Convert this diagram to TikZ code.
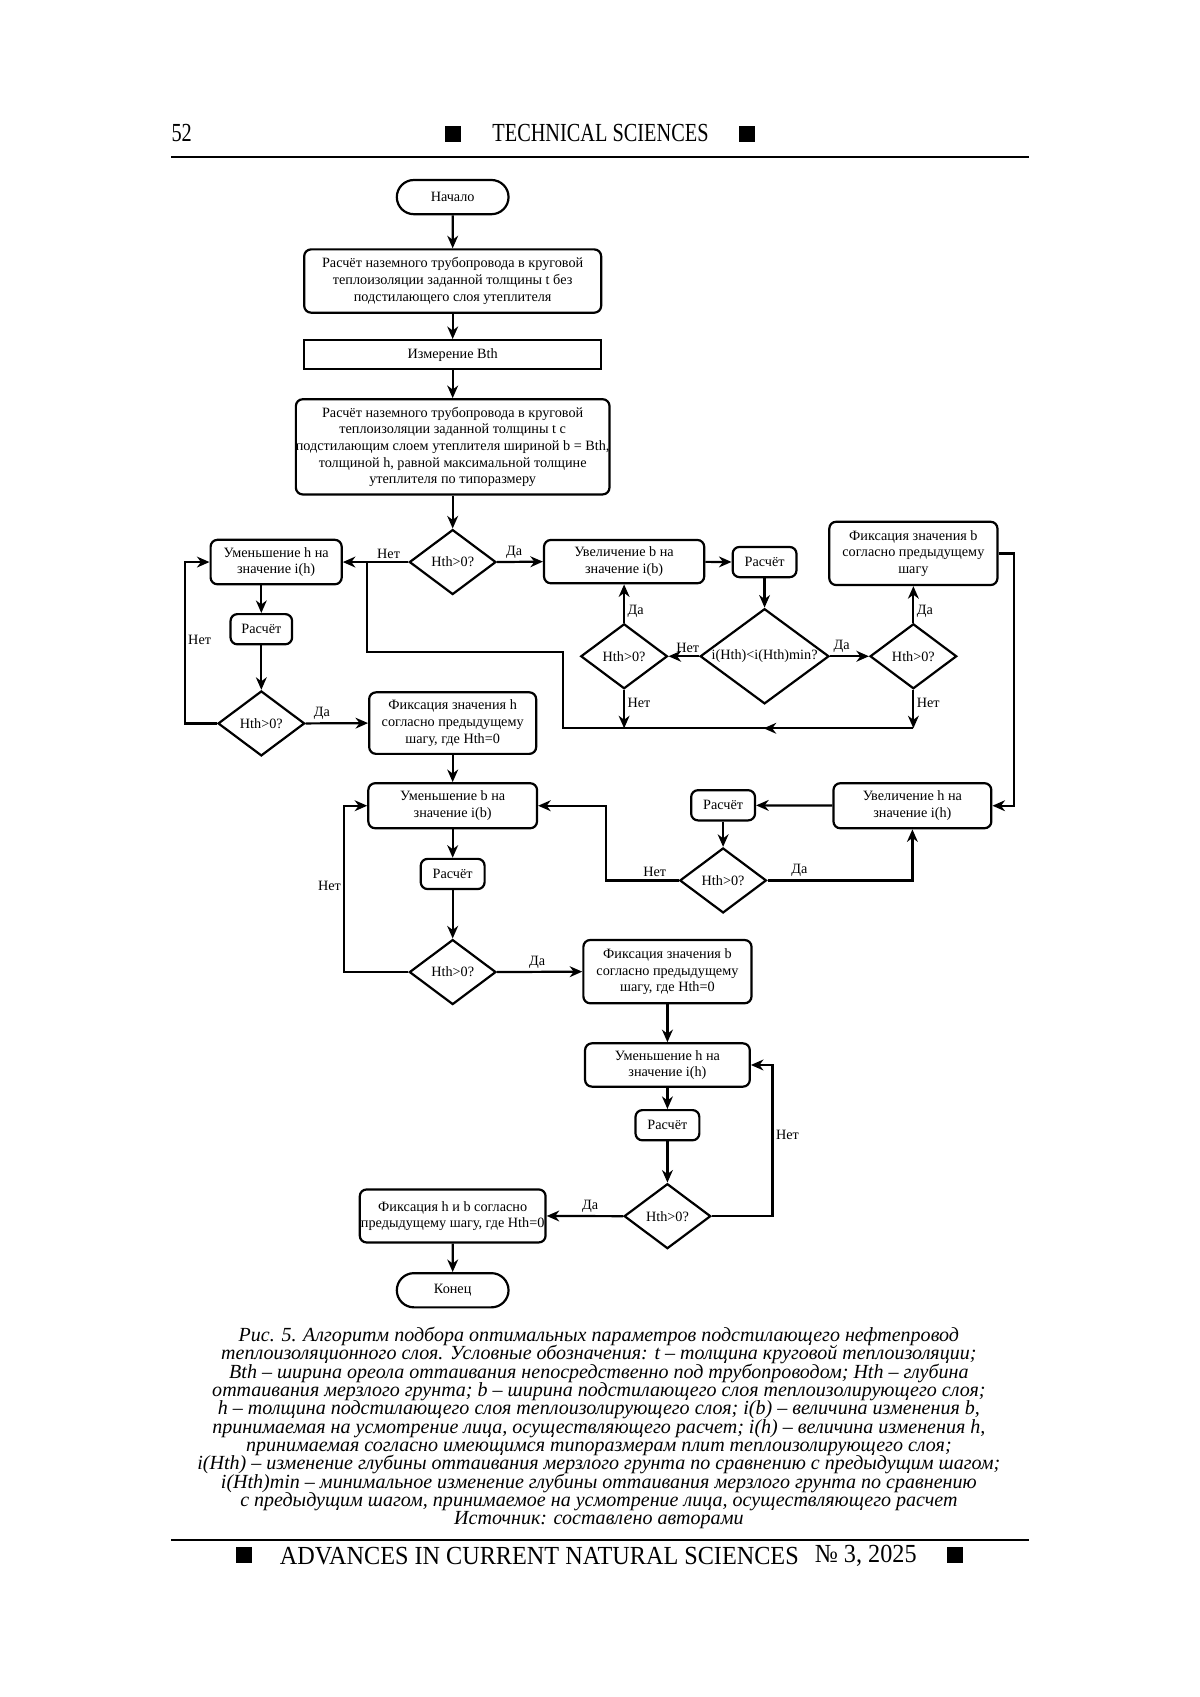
\documentclass[tikz,border=0pt]{standalone}
\usepackage{fontspec}
\setmainfont{Liberation Serif}
\newfontfamily\headfont[FakeStretch=0.78]{Liberation Serif}
\newfontfamily\footfont[FakeStretch=0.93]{Liberation Serif}
\newfontfamily\capfont{Liberation Serif}
\newcommand\tightlines{\lineskiplimit=-10pt\relax}
\usetikzlibrary{positioning, shapes.geometric, shapes.misc, arrows.meta, decorations.markings}

\begin{document}
\begin{tikzpicture}[x=0.19mm, y=-0.19mm,
    every node/.style={font=\fontsize{7.1}{8.3}\selectfont},
    block/.style={draw, line width=1.1pt, rounded corners=1.2mm, align=center, inner sep=0pt},
    plainbox/.style={draw, line width=1.1pt, align=center, inner sep=0pt},
    term/.style={draw, line width=1.1pt, rounded rectangle, minimum width=19.6mm, minimum height=6mm, inner sep=0pt},
    calcbox/.style={block, minimum width=11.2mm, minimum height=5.3mm},
    check/.style={draw, line width=1.1pt, diamond, aspect=1.33, minimum width=15.2mm, minimum height=11.4mm, inner sep=0pt},
    arr/.style={line width=1.1pt, -{Stealth[length=2.2mm,width=1.9mm,inset=0.7mm]}},
    conn/.style={line width=1.1pt},
    midarrow/.style={postaction={decorate}, decoration={markings,
        mark=at position #1 with {\arrow{Stealth[length=2.2mm,width=1.9mm,inset=0.7mm]}}}},
    lab/.style={inner sep=1.2pt}
  ]
  \useasboundingbox (0,0) rectangle (1108,1567);

  % page header
  \node[font=\headfont\fontsize{13}{13}\selectfont, anchor=west, inner sep=0] (pnum) at (158,123) {52};
  \node[font=\headfont\fontsize{13}{13}\selectfont, inner sep=0] (head) at (554.5,123) {TECHNICAL SCIENCES};
  \node[fill, minimum size=2.85mm, inner sep=0] (hsq1) at (418,124) {};
  \node[fill, minimum size=2.85mm, inner sep=0] (hsq2) at (690,124) {};
  \draw[line width=1.3pt] (158,145) -- (950,145);

  % main column
  \node[term] (start) at (418,182) {Начало};
  \node[block, minimum width=52.1mm, minimum height=11.1mm] (calc1) at (418,259.5)
    {Расчёт наземного трубопровода в круговой\\теплоизоляции заданной толщины t без\\подстилающего слоя утеплителя};
  \node[plainbox, minimum width=52.1mm, minimum height=5.1mm] (meas) at (418,327.5) {Измерение Bth};
  \node[block, minimum width=54.7mm, minimum height=16.7mm] (calc2) at (418,412.6)
    {Расчёт наземного трубопровода в круговой\\теплоизоляции заданной толщины t с\\подстилающим слоем утеплителя шириной b = Bth,\\толщиной h, равной максимальной толщине\\утеплителя по типоразмеру};
  \node[check] (d1) at (418,519) {Hth>0?};

  % left branch: h decrease
  \node[block, minimum width=23mm, minimum height=7.8mm] (hdec1) at (255,519) {Уменьшение h на\\значение i(h)};
  \node[calcbox, minimum width=10.8mm] (r1) at (241.3,581) {Расчёт};
  \node[check] (d2) at (241.3,668) {Hth>0?};
  \node[block, minimum width=29.3mm, minimum height=10.8mm] (fixh) at (418,667.7)
    {Фиксация значения h\\согласно предыдущему\\шагу, где Hth=0};

  % right branch: b increase
  \node[block, minimum width=28.1mm, minimum height=7.6mm] (bincr) at (576.3,518.6) {Увеличение b на\\значение i(b)};
  \node[calcbox] (r2) at (706,519) {Расчёт};
  \node[check, aspect=1.35, minimum width=22.6mm, minimum height=16.7mm] (di) at (706,606) {i(Hth)<i(Hth)min?};
  \node[check] (d3) at (576.3,606) {Hth>0?};
  \node[check] (d4) at (843.4,606) {Hth>0?};
  \node[block, minimum width=29.5mm, minimum height=11.1mm] (fixb1) at (843.4,511)
    {Фиксация значения b\\согласно предыдущему\\шагу};

  % h increase loop
  \node[block, minimum width=27.7mm, minimum height=7.9mm] (hincr) at (842.5,744) {Увеличение h на\\значение i(h)};
  \node[calcbox] (r3) at (667.7,743.6) {Расчёт};
  \node[check] (d5) at (667.7,813) {Hth>0?};

  % b decrease loop
  \node[block, minimum width=29.6mm, minimum height=7.9mm] (bdec) at (418,744) {Уменьшение b на\\значение i(b)};
  \node[calcbox] (r4) at (418,807) {Расчёт};
  \node[check] (d6) at (418,897.6) {Hth>0?};
  \node[block, minimum width=29.5mm, minimum height=11.1mm] (fixb2) at (616.3,897.2)
    {Фиксация значения b\\согласно предыдущему\\шагу, где Hth=0};

  % final h decrease loop
  \node[block, minimum width=28.9mm, minimum height=7.6mm] (hdec2) at (616.3,983.4) {Уменьшение h на\\значение i(h)};
  \node[calcbox] (r5) at (616.3,1039) {Расчёт};
  \node[check] (d7) at (616.3,1123) {Hth>0?};
  \node[block, minimum width=32.6mm, minimum height=9.3mm] (fixhb) at (418,1122.8)
    {Фиксация h и b согласно\\предыдущему шагу, где Hth=0};
  \node[term] (end) at (418,1191.4) {Конец};

  \coordinate (jn) at (338.6,519);
  \coordinate (up) at (338.6,601.7);
  \coordinate (lo) at (520.2,672.5);

  % connectors
  \draw[arr] (start) -- (calc1);
  \draw[arr] (calc1) -- (meas);
  \draw[arr] (meas) -- (calc2);
  \draw[arr] (calc2) -- (d1);
  \draw[arr] (d1.west) -- node[lab, pos=.3, above] {Нет} (hdec1.east);
  \draw[arr] (d1.east) -- node[lab, pos=.37, above] {Да} (bincr.west);

  \draw[arr] (hdec1.south -| r1) -- (r1);
  \draw[arr] (r1) -- (d2);
  \draw[arr] (d2.west) -- ++(-29.7,0) |- node[lab, pos=.26, right] {Нет} (hdec1.west);
  \draw[arr] (d2.east) -- node[lab, pos=.26, above] {Да} (fixh.west);

  \draw[arr] (bincr) -- (r2);
  \draw[arr] (r2) -- (di);
  \draw[arr] (di.west) -- node[lab, pos=.37, above] {Нет} (d3.east);
  \draw[arr] (di.east) -- node[lab, pos=.3, above] {Да} (d4.west);
  \draw[arr] (d3) -- node[lab, pos=.3, right] {Да} (bincr);
  \draw[arr] (d4) -- node[lab, pos=.3, right] {Да} (fixb1);
  \draw[arr] (d3.south) -- node[lab, pos=.34, right] {Нет} (d3 |- lo);
  \draw[arr] (d4.south) -- node[lab, pos=.34, right] {Нет} (d4 |- lo);
  \draw[conn, midarrow=.21] (d4 |- lo) -- (lo) -- (lo |- up) -- (up) -- (jn);

  \draw[arr] (fixb1.east) -- ++(14.5,0) |- (hincr.east);
  \draw[arr] (hincr) -- (r3);
  \draw[arr] (r3) -- (d5);
  \draw[arr] (d5.east) -| node[lab, pos=.11, above] {Да} (hincr.south);
  \draw[arr] (d5.west) -- node[lab, pos=.33, above] {Нет} ++(-66.8,0) |- (bdec.east);

  \draw[arr] (fixh) -- (bdec);
  \draw[arr] (bdec) -- (r4);
  \draw[arr] (r4) -- (d6);
  \draw[arr] (d6.west) -- ++(-59,0) |- node[lab, pos=.26, left] {Нет} (bdec.west);
  \draw[arr] (d6.east) -- node[lab, pos=.47, above] {Да} (fixb2.west);

  \draw[arr] (fixb2) -- (hdec2);
  \draw[arr] (hdec2) -- (r5);
  \draw[arr] (r5) -- (d7);
  \draw[arr] (d7.east) -- ++(56,0) |- node[lab, pos=.27, right] {Нет} (hdec2.east);
  \draw[arr] (d7.west) -- node[lab, pos=.43, above] {Да} (fixhb.east);
  \draw[arr] (fixhb) -- (end);

  % caption
  \node[font=\capfont\itshape\fontsize{10}{9.15}\selectfont\tightlines, align=center, anchor=north, inner sep=0] (caption) at (553,1225)
    {Рис. 5. Алгоритм подбора оптимальных параметров подстилающего нефтепровод\\
     теплоизоляционного слоя. Условные обозначения: t – толщина круговой теплоизоляции;\\
     Bth – ширина ореола оттаивания непосредственно под трубопроводом; Hth – глубина\\
     оттаивания мерзлого грунта; b – ширина подстилающего слоя теплоизолирующего слоя;\\
     h – толщина подстилающего слоя теплоизолирующего слоя; i(b) – величина изменения b,\\
     принимаемая на усмотрение лица, осуществляющего расчет; i(h) – величина изменения h,\\
     принимаемая согласно имеющимся типоразмерам плит теплоизолирующего слоя;\\
     i(Hth) – изменение глубины оттаивания мерзлого грунта по сравнению с предыдущим шагом;\\
     i(Hth)min – минимальное изменение глубины оттаивания мерзлого грунта по сравнению\\
     с предыдущим шагом, принимаемое на усмотрение лица, осуществляющего расчет\\
     Источник: составлено авторами};

  % page footer
  \draw[line width=1.3pt] (158,1422) -- (950,1422);
  \node[fill, minimum size=2.85mm, inner sep=0] (fsq1) at (225,1436) {};
  \node[font=\footfont\fontsize{13}{13}\selectfont, anchor=west, inner sep=0] (foot) at (258,1437) {ADVANCES IN CURRENT NATURAL SCIENCES};
  \node[font=\footfont\fontsize{13}{13}\selectfont, anchor=west, inner sep=0] (issue) at (752,1437) {№ 3, 2025};
  \node[fill, minimum size=2.85mm, inner sep=0] (fsq2) at (882,1436) {};
\end{tikzpicture}
\end{document}
